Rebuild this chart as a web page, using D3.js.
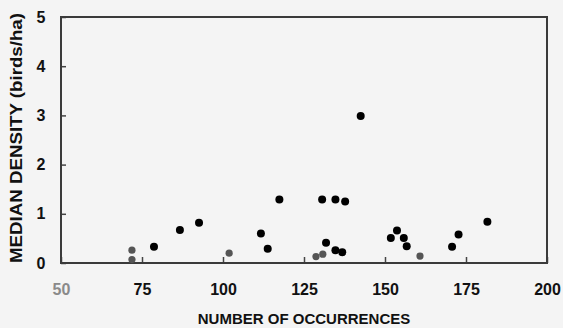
<!DOCTYPE html>
<html>
<head>
<meta charset="utf-8">
<script src="https://cdn.jsdelivr.net/npm/d3@7"></script>
<style>
  body { margin: 0; background: #f4f4f4; }
  svg { display: block; font-family: "Liberation Sans", Arial, sans-serif; }
</style>
</head>
<body>
<svg id="chart"></svg>
<script>
// occurrences vs median density
const occurrences = [78.7, 86.7, 92.6, 111.7, 113.8, 117.4, 130.6, 131.8, 134.7, 134.7,
                     136.8, 137.7, 142.5, 151.8, 153.7, 155.8, 156.7, 170.7, 172.7, 181.6];
const density     = [0.33, 0.67, 0.82, 0.60, 0.29, 1.29, 1.29, 0.41, 1.29, 0.26,
                     0.22, 1.25, 2.99, 0.51, 0.66, 0.51, 0.34, 0.33, 0.58, 0.84];

// faint (half-erased) dots near the baseline
const faintOccurrences = [71.9, 71.9, 101.9, 128.7, 130.8, 160.8];
const faintDensity     = [0.26, 0.07, 0.20, 0.13, 0.18, 0.14];

const xTicks = [50, 75, 100, 125, 150, 175, 200];
const yTicks = [0, 1, 2, 3, 4, 5];

class ScatterChart {

    constructor( config ) {
        this.config = {
            parent: config.parent,
            width: config.width || 563,
            height: config.height || 328,
            margin: config.margin || {top:17, right:16, bottom:65, left:61}
        }
        this.init();
    }

    init() {
        let self = this;

        self.svg = d3.select( self.config.parent )
            .attr('width', self.config.width)
            .attr('height', self.config.height);

        self.inner_width = self.config.width - self.config.margin.left - self.config.margin.right;
        self.inner_height = self.config.height - self.config.margin.top - self.config.margin.bottom;

        self.chart = self.svg.append('g')
            .attr('transform', `translate(${self.config.margin.left}, ${self.config.margin.top})`);

        self.xscale = d3.scaleLinear()
            .domain( [50, 200] )
            .range( [0, self.inner_width] );

        self.yscale = d3.scaleLinear()
            .domain( [0, 5] )
            .range( [self.inner_height, 0] );

        self.xaxis = d3.axisBottom( self.xscale )
            .tickValues( xTicks )
            .tickFormat( d3.format('d') )
            .tickSize( -6 )
            .tickPadding( 21 );

        self.yaxis = d3.axisLeft( self.yscale )
            .tickValues( yTicks )
            .tickFormat( d3.format('d') )
            .tickSize( -5 )
            .tickPadding( 15.5 );
    }

    render() {
        let self = this;

        self.chart.append('g')
            .attr('transform', `translate(0, ${self.inner_height})`)
            .call( self.xaxis );

        self.chart.append('g')
            .call( self.yaxis );

        self.chart.selectAll('.domain').remove();
        self.chart.selectAll('.tick line')
            .attr('stroke', '#444')
            .attr('stroke-width', 1.5);
        self.chart.selectAll('.tick text')
            .attr('fill', '#111')
            .attr('font-size', '16px')
            .attr('font-weight', 'bold')
            .attr('font-family', '"Liberation Sans", Arial, sans-serif');
        self.chart.selectAll('.tick text')
            .filter( d => d === 50 )
            .attr('fill', '#8a8a8a');

        // frame
        self.chart.append('rect')
            .attr('x', 0)
            .attr('y', 0)
            .attr('width', self.inner_width)
            .attr('height', self.inner_height)
            .attr('fill', 'none')
            .attr('stroke', '#3a3a3a')
            .attr('stroke-width', 2);

        self.chart.selectAll('circle.faint')
            .data( faintOccurrences )
            .enter()
            .append('circle')
            .attr('class', 'faint')
            .attr('cx', d => self.xscale( d ))
            .attr('cy', (d, i) => self.yscale( faintDensity[i] ))
            .attr('r', 3.6)
            .attr('fill', '#555');

        self.chart.selectAll('circle.dot')
            .data( occurrences )
            .enter()
            .append('circle')
            .attr('class', 'dot')
            .attr('cx', d => self.xscale( d ))
            .attr('cy', (d, i) => self.yscale( density[i] ))
            .attr('r', 4)
            .attr('fill', '#000');

        self.svg.append('text')
            .attr('x', self.config.margin.left + self.inner_width / 2)
            .attr('y', 324)
            .attr('text-anchor', 'middle')
            .attr('font-size', '15px')
            .attr('font-weight', 'bold')
            .attr('fill', '#111')
            .text('NUMBER OF OCCURRENCES');

        self.svg.append('text')
            .attr('transform', 'translate(22, 138) rotate(-90)')
            .attr('text-anchor', 'middle')
            .attr('font-size', '16px')
            .attr('font-weight', 'bold')
            .attr('fill', '#111')
            .attr('textLength', 250)
            .attr('lengthAdjust', 'spacingAndGlyphs')
            .text('MEDIAN DENSITY (birds/ha)');
    }
}

const chart = new ScatterChart( {parent: '#chart'} );
chart.render();
</script>
</body>
</html>
